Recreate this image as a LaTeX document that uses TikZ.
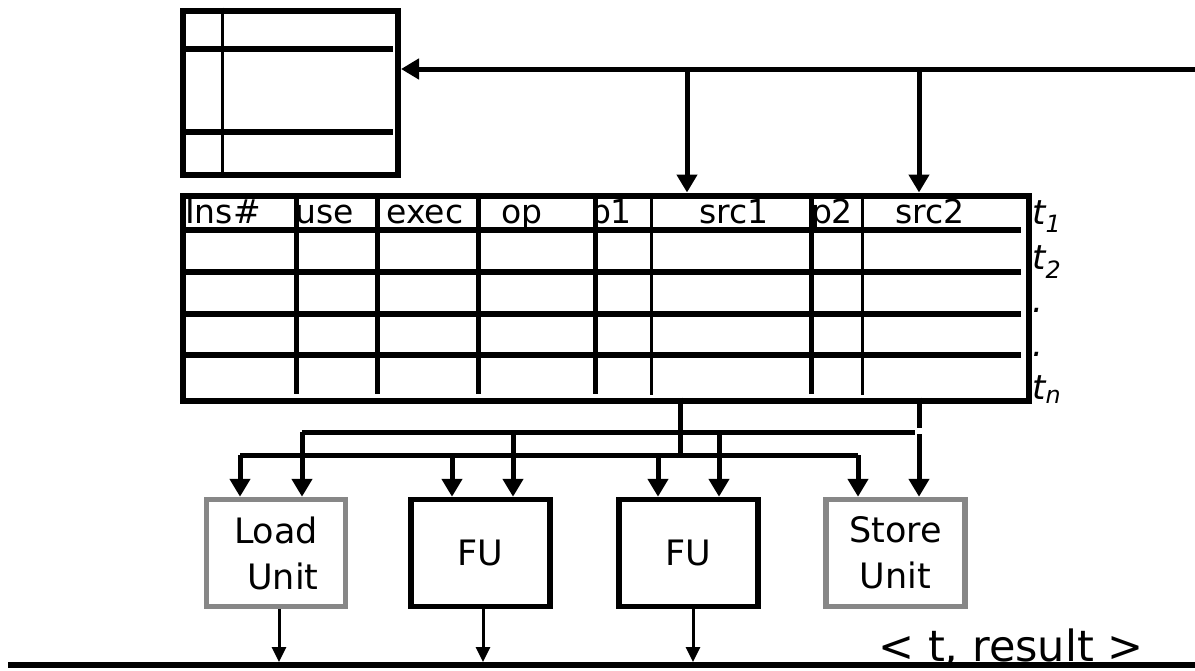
\documentclass[tikz,border=0pt]{standalone}
\usepackage{fontspec}
\setmainfont{DejaVu Sans}
\usetikzlibrary{arrows.meta}
\begin{document}
\begin{tikzpicture}[x=1pt,y=-1pt,
  bus/.style={line width=5pt},
  arr/.style={line width=5pt,-{Triangle[length=18pt,width=20pt]}},
  smallarr/.style={line width=3pt,-{Triangle[length=15pt,width=14pt]}},
  unitbox/.style={draw,line width=5.5pt,minimum width=139pt,minimum height=107pt,inner sep=0pt,align=center,font=\fontsize{35}{46}\selectfont},
  grayunit/.style={unitbox,draw=black!47},
  hdr/.style={anchor=base,inner sep=0pt,font=\fontsize{33}{36}\selectfont},
  tlbl/.style={anchor=base west,inner sep=0pt,font=\fontsize{34}{40}\selectfont\itshape},
  rowline/.style={line width=5.5pt},
  thickcol/.style={line width=5pt},
  thincol/.style={line width=3pt}
]
\useasboundingbox (0,0) rectangle (1195,670);

% register file
\node[draw,line width=6pt,minimum width=215.5pt,minimum height=164pt,inner sep=0pt,anchor=north west] (regfile) at (179.5,7.5) {};
\draw[thincol] (222,7.5) -- (222,171.5);
\draw[rowline] (182,49) -- (393,49);
\draw[rowline] (182,132) -- (393,132);

% reservation table
\node[draw,line width=6pt,minimum width=846.5pt,minimum height=205pt,inner sep=0pt,anchor=north west] (rs) at (179.5,192.5) {};
\foreach \y in {230,272,314,355} \draw[rowline] (182,\y) -- (1021,\y);
\foreach \x in {296,377,478,595,811} \draw[thickcol] (\x,195) -- (\x,394);
\foreach \x in {651,862} \draw[thincol] (\x,195) -- (\x,395);
\node[hdr] (hIns) at (223,223) {Ins\#};
\node[hdr] (hUse) at (325,223) {use};
\node[hdr] (hExec) at (425,223) {exec};
\node[hdr] (hOp) at (522,223) {op};
\node[hdr] (hP1) at (611,223) {p1};
\node[hdr] (hSrc1) at (734,223) {src1};
\node[hdr] (hP2) at (832,223) {p2};
\node[hdr] (hSrc2) at (930,223) {src2};

% t labels
\node[tlbl] (t1) at (1032,224) {t\textsubscript{1}};
\node[tlbl] (t2) at (1032,269) {t\textsubscript{2}};
\node[tlbl] (d1) at (1032,312) {.};
\node[tlbl] (d2) at (1032,356) {.};
\node[tlbl] (tn) at (1032,399) {t\textsubscript{n}};

% top bus
\coordinate (busR) at (1195,69);
\coordinate (tapA) at (687,69);
\coordinate (tapB) at (919,69);
\draw[arr] (busR) -- (regfile.east |- busR);
\draw[arr] (tapA) -- (tapA |- rs.north);
\draw[arr] (tapB) -- (tapB |- rs.north);

% units
\node[grayunit] (load) at (276,553) {Load\\\hspace*{14pt}Unit};
\node[unitbox] (fu1) at (480.5,553) {FU};
\node[unitbox] (fu2) at (688.5,553) {FU};
\node[grayunit] (store) at (895.5,553) {Store\\Unit};

% distribution buses
\coordinate (lowL) at (240,455);
\coordinate (lowR) at (858,455);
\coordinate (upL) at (302,432);
\coordinate (upR) at (915,432);
\draw[bus] (680,397.5) -- (680,455);
\draw[bus] (lowL) -- (lowR);
\draw[bus] (upL) -- (upR);
\draw[bus] (919,397.5) -- (919,428);
\coordinate (stTap) at (919,434);
\draw[arr] (stTap) -- (stTap |- store.north);

\foreach \x in {240,452,658,858} {
  \coordinate (tp) at (\x,455);
  \draw[arr] (tp) -- (tp |- load.north);
}
\foreach \x in {302,513,719} {
  \coordinate (tp) at (\x,432);
  \draw[arr] (tp) -- (tp |- load.north);
}

% result bus
\coordinate (resL) at (8,665);
\coordinate (resR) at (1195,665);
\draw[line width=6pt] (resL) -- (resR);
\foreach \x/\n in {279/load,483/fu1,693/fu2} {
  \coordinate (bt) at (\x,662);
  \draw[smallarr] (bt |- \n.south) -- (bt);
}
\node[anchor=base,inner sep=0pt,font=\fontsize{43}{48}\selectfont] (res) at (1011,661) {< t, result >};
\end{tikzpicture}
\end{document}
